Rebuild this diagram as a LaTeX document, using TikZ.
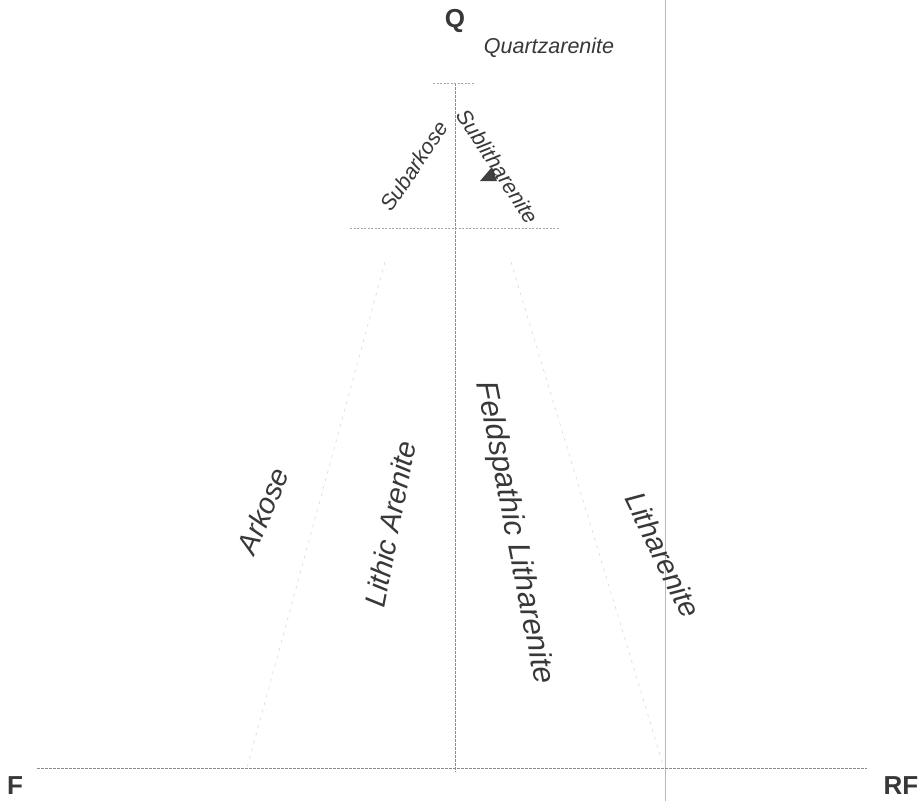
\documentclass[tikz,border=0pt]{standalone}
\usepackage{fontspec}
\setmainfont{Liberation Sans}
\begin{document}
\begin{tikzpicture}[x=1pt,y=-1pt,
  ink/.style={text=black!78},
  apexlabel/.style={ink,font=\fontsize{26}{26}\selectfont\bfseries,inner sep=0},
  smalllabel/.style={ink,font=\fontsize{21.5}{21.5}\selectfont\itshape,inner sep=0},
  biglabel/.style={ink,font=\fontsize{29}{29}\selectfont\itshape,inner sep=0},
  axisline/.style={black!45,line width=0.7pt,dash pattern=on 3pt off 1pt},
  gridline/.style={black!35,line width=0.6pt,dash pattern=on 2pt off 1.5pt},
  faintline/.style={black!15,line width=0.6pt,dash pattern=on 3pt off 5pt},
  rfline/.style={black!28,line width=0.8pt}]
\useasboundingbox (0,0) rectangle (922,801);
\fill[white] (0,0) rectangle (922,801);

% coordinates
\coordinate (top) at (455,83);
\coordinate (bot) at (455,772);
\coordinate (baseL) at (37,768);
\coordinate (baseR) at (867,768);
\coordinate (hL) at (350,228);
\coordinate (hR) at (560,228);
\coordinate (tL) at (433,83);
\coordinate (tR) at (475,83);
\coordinate (vT) at (665,0);
\coordinate (vB) at (665,801);
\coordinate (lA) at (385,262);
\coordinate (lB) at (247,768);
\coordinate (rA) at (511,262);
\coordinate (rB) at (664,768);

% lines
\draw[rfline] (vT) -- (vB);
\draw[axisline] (baseL) -- (baseR);
\draw[axisline] (top) -- (bot);
\draw[gridline] (hL) -- (hR);
\draw[gridline] (tL) -- (tR);
\draw[faintline] (lA) -- (lB);
\draw[faintline] (rA) -- (rB);

% marker
\fill[black!75] (480,181) -- (497,181) -- (492,167) -- cycle;

% apex labels
\node[apexlabel] (Q) at (455,21) {Q};
\node[apexlabel] (F) at (15,786) {F};
\node[apexlabel] (RF) at (901,786) {RF};

% field labels
\node[smalllabel] (qa) at (549,48) {Quartzarenite};
\node[smalllabel,rotate=56] (sa) at (414,166) {Subarkose};
\node[smalllabel,rotate=-57] (sl) at (498,166) {Sublitharenite};
\node[biglabel,rotate=67] (ar) at (263,511) {Arkose};
\node[biglabel,rotate=79] (la) at (390,524) {Lithic Arenite};
\node[biglabel,rotate=-79,font=\fontsize{30.5}{30.5}\selectfont\itshape] (fl) at (514,533) {Feldspathic Litharenite};
\node[biglabel,rotate=-64] (lt) at (663,555) {Litharenite};
\end{tikzpicture}
\end{document}
